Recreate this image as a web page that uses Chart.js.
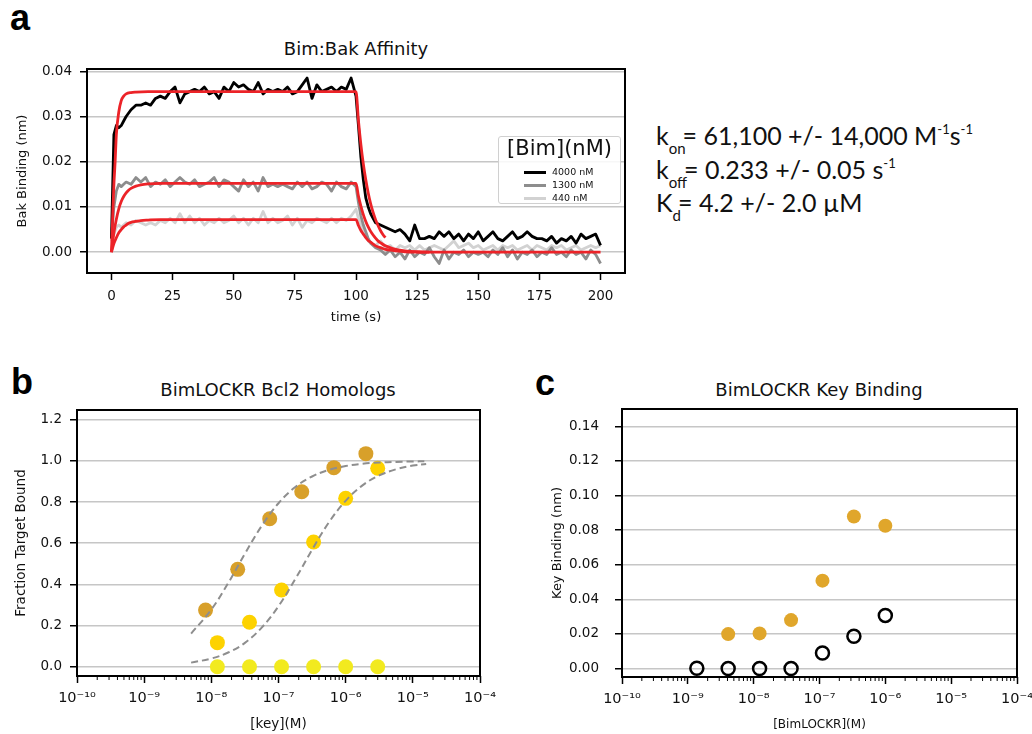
<!DOCTYPE html>
<html>
<head>
<meta charset="utf-8">
<script src="https://cdn.jsdelivr.net/npm/chart.js@4.4.1/dist/chart.umd.min.js"></script>
<style>
body{margin:0;width:1032px;height:734px;background:#fff;position:relative;overflow:hidden;font-family:"DejaVu Sans",sans-serif;color:#111;}
.panel{position:absolute;}
.letter{position:absolute;font:bold 36px "Liberation Sans",Arial,sans-serif;line-height:36px;color:#000;}
.title{position:absolute;font-size:18px;line-height:22px;transform:translate(-50%,-50%);white-space:nowrap;}
.kin{position:absolute;left:656px;font-family:Lato,sans-serif;font-size:25px;line-height:30px;white-space:nowrap;color:#111;}
.kin .sb{font-size:15px;position:relative;top:9px;margin-right:-3px;}
.kin .sp{font-size:13px;position:relative;top:-11px;}
#legendA{position:absolute;left:498px;top:136px;width:123px;height:68px;border:1px solid #d0d0d0;border-radius:3px;background:rgba(255,255,255,0.85);box-sizing:border-box;}
#legendA .lt{font-size:21px;line-height:24px;text-align:center;margin-top:-1px;}
#legendA .row{position:absolute;left:25px;height:13px;font-size:9.5px;line-height:13px;white-space:nowrap;}
#legendA .sw{display:inline-block;width:22px;height:3px;vertical-align:middle;margin-right:6px;}
</style>
</head>
<body>

<div class="letter" style="left:10px;top:0px">a</div>
<div class="letter" style="left:11px;top:364px">b</div>
<div class="letter" style="left:535px;top:365px">c</div>

<div class="title" style="left:356px;top:49px">Bim:Bak Affinity</div>
<div class="title" style="left:278px;top:390px">BimLOCKR Bcl2 Homologs</div>
<div class="title" style="left:819px;top:390px">BimLOCKR Key Binding</div>

<div class="panel" style="left:0;top:0;width:640px;height:330px"><canvas id="chartA" width="640" height="330"></canvas></div>
<div class="panel" style="left:0;top:360px;width:520px;height:374px"><canvas id="chartB" width="520" height="374"></canvas></div>
<div class="panel" style="left:520px;top:360px;width:512px;height:374px"><canvas id="chartC" width="512" height="374"></canvas></div>

<div id="legendA"><div class="lt">[Bim](nM)</div></div>

<div class="kin" style="top:120px">k<span class="sb">on</span>= 61,100 +/- 14,000 M<span class="sp">-1</span>s<span class="sp">-1</span></div>
<div class="kin" style="top:154px">k<span class="sb">off</span>= 0.233 +/- 0.05 s<span class="sp">-1</span></div>
<div class="kin" style="top:187px">K<span class="sb">d</span>= 4.2 +/- 2.0 µM</div>

<script>
// ---- panel a : Bim:Bak kinetics ----
const traceTime=[0,1,2,3,4,5,6,
8,10,12,14,16,18,20,22,24,26,28,30,32,34,36,38,40,42,44,46,48,50,52,54,56,58,60,62,64,66,68,70,72,74,76,78,80,82,84,86,88,90,92,94,96,98,100,
101,102,103,104,105,106,
108,110,112,114,116,118,120,122,124,126,128,130,132,134,136,138,140,142,144,146,148,150,152,154,156,158,160,162,164,166,168,170,172,174,176,178,180,182,184,186,188,190,192,194,196,198,200];

const trace4000=[0.003,0.026,0.028,0.0275,0.028,0.029,0.030,
0.0315,0.0325,0.0325,0.033,0.0325,0.034,0.0345,0.034,0.0355,0.0365,
0.033,0.035,0.0355,0.036,0.0355,0.0365,0.035,0.0355,0.034,0.0365,
0.0355,0.0375,0.0365,0.037,0.036,0.0355,0.0375,0.035,0.036,0.0355,
0.036,0.0355,0.0365,0.035,0.0355,0.037,0.0385,0.034,0.037,0.0355,
0.036,0.0365,0.0355,0.0365,0.036,0.0385,0.0345,
0.028,0.021,0.016,0.012,0.010,0.0085,
0.0065,0.006,0.0055,0.005,0.0045,0.005,0.004,0.0025,0.006,0.003,
0.003,0.0035,0.003,0.0045,0.0035,0.0045,0.003,0.004,0.0025,0.004,
0.003,0.0045,0.0025,0.0035,0.0045,0.003,0.0025,0.0035,0.0045,0.003,
0.0035,0.0045,0.0035,0.003,0.003,0.0025,0.0035,0.002,0.003,0.0025,
0.0035,0.002,0.004,0.003,0.0035,0.004,0.0015];

const trace1300=[0.003,0.010,0.0135,0.015,0.0145,0.015,0.0155,
0.015,0.0165,0.0155,0.0165,0.0145,0.0155,0.015,0.016,0.0145,0.0155,
0.0165,0.0155,0.015,0.016,0.0145,0.015,0.0155,0.0165,0.0145,0.016,
0.0155,0.0145,0.0135,0.016,0.0145,0.0155,0.0135,0.0165,0.0145,0.015,
0.0145,0.015,0.0145,0.014,0.0155,0.0145,0.0155,0.014,0.0145,0.0155,
0.015,0.0135,0.0155,0.0145,0.014,0.0155,0.0145,
0.011,0.008,0.006,0.0045,0.003,0.002,
0.001,0.0005,-0.0005,0.0005,-0.001,0.0,-0.0015,0.0005,-0.001,0.0,
-0.0005,0.001,-0.001,-0.0025,0.0005,-0.0015,0.0,-0.0005,0.0005,-0.001,
0.0,-0.0005,0.0,-0.001,0.0005,-0.0005,0.001,-0.001,0.0005,-0.0015,
0.0,-0.0005,0.0005,-0.001,0.0,-0.0005,0.001,-0.0005,0.0,-0.001,
0.0005,-0.0005,0.0,-0.0015,0.0005,-0.0005,-0.0025];

const trace440=[0.0025,0.004,0.0055,0.006,0.0055,0.006,0.0065,
0.006,0.007,0.0065,0.006,0.0065,0.006,0.007,0.0065,0.0075,0.0065,
0.0085,0.0065,0.008,0.0065,0.0075,0.006,0.007,0.0065,0.0075,0.0065,
0.007,0.008,0.0065,0.0075,0.006,0.0075,0.0065,0.009,0.0065,0.0075,
0.0065,0.007,0.008,0.006,0.0075,0.0055,0.007,0.0065,0.0075,0.007,
0.0065,0.0075,0.0065,0.0075,0.007,0.008,0.0095,
0.0075,0.006,0.0045,0.0035,0.0025,0.002,
0.0015,0.0025,0.001,0.0015,0.0005,0.0015,0.001,0.0015,0.0005,0.0015,
0.0005,0.001,0.0015,0.001,0.0005,0.0015,0.0025,0.001,0.0015,0.002,
0.001,0.0015,0.0005,0.001,0.0015,0.0005,0.0015,0.001,0.0015,0.0005,
0.001,0.0015,0.0005,0.0015,0.001,0.0005,0.0015,0.001,0.0015,0.0005,
0.001,0.0015,0.0005,0.001,0.0015,0.001,0.0015];

// fitted curves (red)
const fitTime4000=[0,0.5,1,1.5,2,3,4,5,6,8,10,15,100,101,102,103,104,105,106,107,108,109,110,111,112];
const fit4000=[0,0.008,0.015,0.020,0.026,0.031,0.0335,0.0345,0.035,0.0353,0.0354,0.0355,
0.0355,0.0291,0.0238,0.0195,0.0160,0.0131,0.0107,0.0088,0.0072,0.0059,0.0048,0.0039,0.0032];
const fitTimeLow=[0,1,2,3,4,5,6,7,8,10,12,15,20,100,101,102,103,104,105,106,107,108,109,110,112,115,120,125,130,200];
const fit1300=[0,0.0043,0.0073,0.0096,0.0112,0.0123,0.0131,0.0137,0.0141,0.0146,0.0149,0.0151,0.0152,
0.0152,0.0124,0.0102,0.0083,0.0068,0.0056,0.0046,0.0038,0.0031,0.0025,0.0021,0.0014,0.0008,0.0003,0.0001,0,0];
const fit440=[0,0.0019,0.0032,0.0043,0.0050,0.0056,0.0060,0.0064,0.0066,0.0068,0.0070,0.0071,0.0072,
0.0072,0.0059,0.0048,0.0040,0.0032,0.0026,0.0022,0.0018,0.0014,0.0012,0.0010,0.0006,0.0004,0.0001,0,0];

const traceLabels=["4000 nM","1300 nM","440 nM"];
const timeTicks=[0,25,50,75,100,125,150,175,200];
const bakTicks=[0,0.01,0.02,0.03,0.04];

// ---- panel b : BimLOCKR Bcl2 homologs ----
const keyDark=[8.2e-9,2.47e-8,7.4e-8,2.22e-7,6.67e-7,2e-6];
const boundDark=[0.275,0.473,0.719,0.850,0.967,1.035];
const keyGold=[1.23e-8,3.7e-8,1.11e-7,3.33e-7,1e-6,3e-6];
const boundGold=[0.117,0.216,0.373,0.606,0.818,0.964];
const keyYellow=[1.23e-8,3.7e-8,1.11e-7,3.33e-7,1e-6,3e-6];
const boundYellow=[0,0,0,0,0,0];
const fitKey=[5e-9,1e-8,1.78e-8,3.16e-8,5.62e-8,1e-7,1.78e-7,3.16e-7,5.62e-7,1e-6,1.78e-6,3.16e-6,5.62e-6,1e-5,1.58e-5];
const fitDark=[0.161,0.278,0.406,0.549,0.684,0.794,0.873,0.924,0.956,0.975,0.986,0.992,0.995,0.997,0.998];
const fitGold=[0.020,0.040,0.069,0.116,0.190,0.294,0.426,0.568,0.701,0.806,0.881,0.929,0.959,0.977,0.985];
const fractionTicks=[0,0.2,0.4,0.6,0.8,1.0,1.2];

// ---- panel c : BimLOCKR key binding ----
const lockrKey=[4.1e-9,1.23e-8,3.7e-8,1.11e-7,3.33e-7,1e-6];
const keyBinding=[0.0199,0.0203,0.028,0.0508,0.0879,0.0825];
const lockrCtrl=[1.37e-9,4.1e-9,1.23e-8,3.7e-8,1.11e-7,3.33e-7,1e-6];
const ctrlBinding=[0.0002,0,0,0,0.009,0.0187,0.0307];
const keyBindTicks=[0,0.02,0.04,0.06,0.08,0.10,0.12,0.14];
const decadeTicks=[1e-10,1e-9,1e-8,1e-7,1e-6,1e-5,1e-4];

const red="#ec2328";
const traceColors=["#000000","#8d8d8d","#d2d2d2"];

function pts(xs,ys){return xs.map((x,i)=>({x:x,y:ys[i]}));}

const sup={"-":"\u207B","0":"\u2070","1":"\u00B9","2":"\u00B2","3":"\u00B3","4":"\u2074","5":"\u2075","6":"\u2076","7":"\u2077","8":"\u2078","9":"\u2079"};
function powLabel(v){
const e=String(Math.round(Math.log10(v)));
return "10"+e.split("").map(ch=>sup[ch]).join("");
}

const frame={id:"frame",afterDraw(c){
const a=c.chartArea,ctx=c.ctx;
ctx.save();
ctx.strokeStyle="#000";
ctx.lineWidth=2;
ctx.strokeRect(a.left,a.top,a.right-a.left,a.bottom-a.top);
ctx.restore();
}};

const minorTicks={id:"minorTicks",afterDraw(c){
const s=c.scales.x;
if(s.type!=="logarithmic") return;
const ctx=c.ctx;
ctx.save();
ctx.strokeStyle="#000";
ctx.lineWidth=1;
for(let e=-10;e<-4;e++){
for(let m=2;m<10;m++){
const px=s.getPixelForValue(m*Math.pow(10,e));
ctx.beginPath();
ctx.moveTo(px,s.top);
ctx.lineTo(px,s.top+4);
ctx.stroke();
}
}
ctx.restore();
}};

function fixTicks(list){return s=>{s.ticks=list.map(v=>({value:v}));};}
function fitX(h){return s=>{s.height=h;s.paddingLeft=0;s.paddingRight=0;};}
function fitY(w){return s=>{s.width=w;s.paddingTop=0;s.paddingBottom=0;};}

const tickFont={family:"DejaVu Sans",size:13.5};
const logFont={family:"DejaVu Sans",size:14.5};

function xAxis(opts){
return Object.assign({
grid:{drawOnChartArea:false,tickLength:7,tickColor:"#000",tickWidth:1.5},
border:{display:false},
ticks:{font:tickFont,color:"#111",padding:8,maxRotation:0,autoSkip:false}
},opts);
}
function yAxis(opts){
return Object.assign({
grid:{color:"#c6c6c6",lineWidth:1.5,tickLength:7,tickColor:"#000",tickWidth:1.5},
border:{display:false},
ticks:{font:tickFont,color:"#111",padding:8,autoSkip:false}
},opts);
}

// chart a
const chartA=new Chart(document.getElementById("chartA"),{
type:"line",
data:{datasets:[
{label:"fit 4000",data:pts(fitTime4000,fit4000),borderColor:red,borderWidth:2.8,cubicInterpolationMode:"monotone",order:0},
{label:"fit 1300",data:pts(fitTimeLow,fit1300),borderColor:red,borderWidth:2.8,cubicInterpolationMode:"monotone",order:0},
{label:"fit 440",data:pts(fitTimeLow,fit440),borderColor:red,borderWidth:2.8,cubicInterpolationMode:"monotone",order:0},
{label:traceLabels[0],data:pts(traceTime,trace4000),borderColor:traceColors[0],borderWidth:2.8,order:1,trace:true},
{label:traceLabels[1],data:pts(traceTime,trace1300),borderColor:traceColors[1],borderWidth:2.8,order:2,trace:true},
{label:traceLabels[2],data:pts(traceTime,trace440),borderColor:traceColors[2],borderWidth:2.8,order:3,trace:true}
]},
options:{
responsive:false,animation:false,devicePixelRatio:1,
layout:{padding:{left:0,right:15,top:69,bottom:0}},
elements:{point:{radius:0},line:{tension:0,borderJoinStyle:"round"}},
plugins:{legend:{display:false},tooltip:{enabled:false}},
scales:{
x:xAxis({type:"linear",min:-10,max:210,afterFit:fitX(57),afterBuildTicks:fixTicks(timeTicks),
title:{display:true,text:"time (s)",color:"#111",font:{family:"DejaVu Sans",size:13},padding:{bottom:5}}}),
y:yAxis({type:"linear",min:-0.0046,max:0.0405,afterFit:fitY(87),afterBuildTicks:fixTicks(bakTicks),
ticks:{font:tickFont,color:"#111",padding:8,callback:v=>v.toFixed(2)},
title:{display:true,text:"Bak Binding (nm)",color:"#111",font:{family:"DejaVu Sans",size:13},padding:{top:15}}})
}
},
plugins:[frame]
});

// html legend for the traces
const legendBox=document.getElementById("legendA");
chartA.data.datasets.filter(d=>d.trace).forEach((d,i)=>{
const row=document.createElement("div");
row.className="row";
row.style.top=(28+i*13)+"px";
row.innerHTML='<span class="sw" style="background:'+d.borderColor+'"></span>'+d.label;
legendBox.appendChild(row);
});

// chart b
new Chart(document.getElementById("chartB"),{
type:"scatter",
data:{datasets:[
{data:pts(fitKey,fitDark),showLine:true,borderColor:"#8e8e8e",borderWidth:2,borderDash:[7,4],pointRadius:0,tension:0.4,order:0},
{data:pts(fitKey,fitGold),showLine:true,borderColor:"#8e8e8e",borderWidth:2,borderDash:[7,4],pointRadius:0,tension:0.4,order:0},
{data:pts(keyDark,boundDark),backgroundColor:"#d8a02a",pointRadius:7.5,borderWidth:0,order:1},
{data:pts(keyGold,boundGold),backgroundColor:"#fdd200",pointRadius:7.5,borderWidth:0,order:2},
{data:pts(keyYellow,boundYellow),backgroundColor:"#f2ea1f",pointRadius:7.5,borderWidth:0,order:3}
]},
options:{
responsive:false,animation:false,devicePixelRatio:1,
layout:{padding:{left:0,right:40,top:50,bottom:0}},
plugins:{legend:{display:false},tooltip:{enabled:false}},
scales:{
x:xAxis({type:"logarithmic",min:1e-10,max:1e-4,afterFit:fitX(58),afterBuildTicks:fixTicks(decadeTicks),
ticks:{font:logFont,color:"#111",padding:7,maxRotation:0,autoSkip:false,callback:v=>powLabel(v)},
title:{display:true,text:"[key](M)",color:"#111",font:{family:"DejaVu Sans",size:13.5},padding:{bottom:1}}}),
y:yAxis({type:"linear",min:-0.045,max:1.247,afterFit:fitY(77),afterBuildTicks:fixTicks(fractionTicks),
ticks:{font:tickFont,color:"#111",padding:8,callback:v=>v.toFixed(1)},
title:{display:true,text:"Fraction Target Bound",color:"#111",font:{family:"DejaVu Sans",size:13.5},padding:{top:13}}})
}
},
plugins:[frame,minorTicks]
});

// chart c
new Chart(document.getElementById("chartC"),{
type:"scatter",
data:{datasets:[
{data:pts(lockrKey,keyBinding),backgroundColor:"#e0a62b",pointRadius:7,borderWidth:0,order:1},
{data:pts(lockrCtrl,ctrlBinding),backgroundColor:"rgba(0,0,0,0)",borderColor:"#000",pointRadius:6.5,borderWidth:2.5,order:0}
]},
options:{
responsive:false,animation:false,devicePixelRatio:1,
layout:{padding:{left:0,right:15,top:49,bottom:0}},
plugins:{legend:{display:false},tooltip:{enabled:false}},
scales:{
x:xAxis({type:"logarithmic",min:1e-10,max:1e-4,afterFit:fitX(57),afterBuildTicks:fixTicks(decadeTicks),
ticks:{font:logFont,color:"#111",padding:7,maxRotation:0,autoSkip:false,callback:v=>powLabel(v)},
title:{display:true,text:"[BimLOCKR](M)",color:"#111",font:{family:"DejaVu Sans",size:12},padding:{bottom:2}}}),
y:yAxis({type:"linear",min:-0.0049,max:0.150,afterFit:fitY(102),afterBuildTicks:fixTicks(keyBindTicks),
ticks:{font:tickFont,color:"#111",padding:16,callback:v=>v.toFixed(2)},
title:{display:true,text:"Key Binding (nm)",color:"#111",font:{family:"DejaVu Sans",size:13},padding:{top:30}}})
}
},
plugins:[frame,minorTicks]
});
</script>
</body>
</html>
